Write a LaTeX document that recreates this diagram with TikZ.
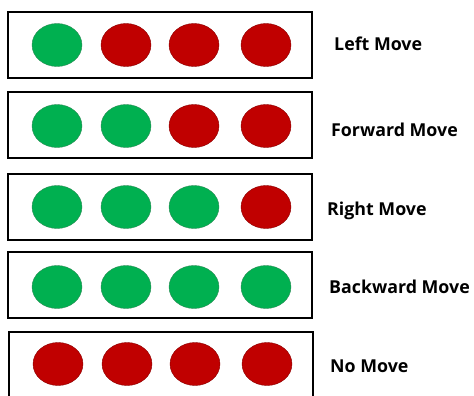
\documentclass[tikz,border=0pt]{standalone}
\usepackage{fontspec}
\setmainfont{Open Sans}
\usetikzlibrary{shapes.geometric}
\definecolor{dotgreen}{HTML}{00B050}
\definecolor{dotred}{HTML}{C00000}
\definecolor{dotgreenrim}{HTML}{2E8B57}
\definecolor{dotredrim}{HTML}{8B0000}
\begin{document}
\begin{tikzpicture}[x=1pt,y=-1pt,
  panel/.style={draw=black,line width=2pt,minimum width=304pt,minimum height=66pt,inner sep=0pt},
  gdot/.style={ellipse,fill=dotgreen,draw=dotgreenrim,line width=0.4pt,minimum width=50pt,minimum height=43pt,inner sep=0pt},
  rdot/.style={ellipse,fill=dotred,draw=dotredrim,line width=0.4pt,minimum width=50pt,minimum height=43pt,inner sep=0pt},
  lbl/.style={anchor=west,font=\bfseries\fontsize{17.8}{20}\selectfont,inner sep=0pt}]
\useasboundingbox (0,0) rectangle (474,396);
\node[panel] (p1) at (160,45.5) {};
\node[panel] (p2) at (160,125) {};
\node[panel] (p3) at (160,207) {};
\node[panel] (p4) at (160,284.5) {};
\node[panel] (p5) at (161,365) {};
% row 1
\node[gdot] (a1) at (57,45) {};
\node[rdot] (a2) at (126,45) {};
\node[rdot] (a3) at (194,45) {};
\node[rdot] (a4) at (266,45) {};
% row 2
\node[gdot] (b1) at (57,126) {};
\node[gdot] (b2) at (126,126) {};
\node[rdot] (b3) at (194,126) {};
\node[rdot] (b4) at (266,126) {};
% row 3
\node[gdot] (c1) at (57,207) {};
\node[gdot] (c2) at (126,207) {};
\node[gdot] (c3) at (194,207) {};
\node[rdot] (c4) at (266,207) {};
% row 4
\node[gdot] (d1) at (57,287) {};
\node[gdot] (d2) at (126,287) {};
\node[gdot] (d3) at (194,287) {};
\node[gdot] (d4) at (266,287) {};
% row 5
\node[rdot] (e1) at (58,364) {};
\node[rdot] (e2) at (127,364) {};
\node[rdot] (e3) at (195,364) {};
\node[rdot] (e4) at (267,364) {};
% labels
\node[lbl] (l1) at (334,44) {Left Move};
\node[lbl] (l2) at (331,130) {Forward Move};
\node[lbl] (l3) at (327,211) {Right Move};
\node[lbl] (l4) at (329,287) {Backward Move};
\node[lbl] (l5) at (330,366) {No Move};
\end{tikzpicture}
\end{document}
